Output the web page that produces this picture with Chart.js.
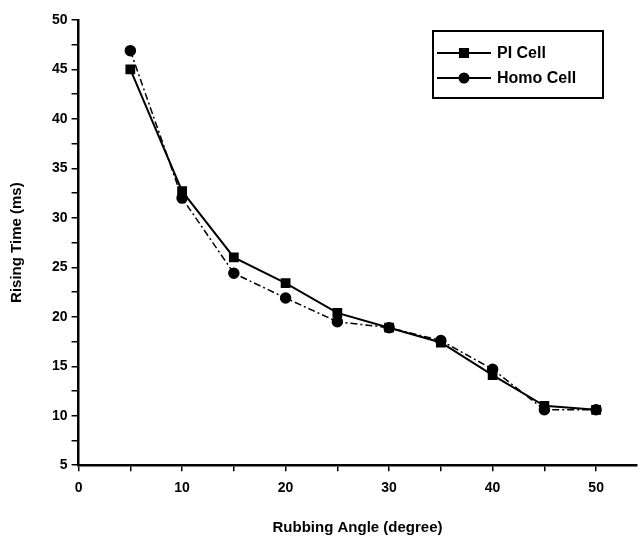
<!DOCTYPE html>
<html>
<head>
<meta charset="utf-8">
<script src="https://cdn.jsdelivr.net/npm/chart.js@4.4.0/dist/chart.umd.min.js"></script>
<style>
  body { margin: 0; background: #fff; }
  #wrap { width: 644px; height: 538px; }
</style>
</head>
<body>
<div id="wrap"><canvas id="riseChart" width="644" height="538"></canvas></div>
<script>
var angles = [5, 10, 15, 20, 25, 30, 35, 40, 45, 50];
var piCell = [45.0, 32.7, 26.0, 23.4, 20.4, 18.9, 17.4, 14.1, 11.0, 10.6];
var homoCell = [46.9, 32.0, 24.4, 21.9, 19.5, 18.9, 17.6, 14.7, 10.6, 10.6];
var xTicks = [0, 5, 10, 15, 20, 25, 30, 35, 40, 45, 50];

function toPoints(xs, ys) {
    return xs.map(function (x, i) { return { x: x, y: ys[i] }; });
}

// legend drawn as a boxed key like the original figure
var boxLegend = {
    id: 'boxLegend',
    afterDraw: function (chart) {
        var ctx = chart.ctx;
        var left = 433, top = 31, w = 170, h = 67;
        ctx.save();
        ctx.strokeStyle = '#000';
        ctx.lineWidth = 2;
        ctx.strokeRect(left, top, w, h);
        chart.data.datasets.forEach(function (ds, i) {
            var y = top + 22 + i * 25;
            ctx.beginPath();
            ctx.setLineDash([]);
            ctx.lineWidth = 2;
            ctx.moveTo(left + 4, y);
            ctx.lineTo(left + 58, y);
            ctx.stroke();
            ctx.fillStyle = '#000';
            ctx.beginPath();
            if (ds.pointStyle === 'rect') {
                ctx.fillRect(left + 26, y - 5, 10, 10);
            } else {
                ctx.arc(left + 31, y, 5.5, 0, Math.PI * 2);
                ctx.fill();
            }
            ctx.font = 'bold 16px "Liberation Sans", Arial, sans-serif';
            ctx.textBaseline = 'middle';
            ctx.fillText(ds.label, left + 64, y + 1);
        });
        ctx.restore();
    }
};

var riseChart = new Chart("riseChart", {
    type: "scatter",
    data: {
        datasets: [{
            label: "PI Cell",
            data: toPoints(angles, piCell),
            showLine: true,
            borderColor: "black",
            backgroundColor: "black",
            borderWidth: 2,
            pointStyle: 'rect',
            pointRadius: 5.5,
            fill: false
        }, {
            label: "Homo Cell",
            data: toPoints(angles, homoCell),
            showLine: true,
            borderColor: "black",
            backgroundColor: "black",
            borderWidth: 1.5,
            borderDash: [7, 3, 2, 3],
            pointStyle: 'circle',
            pointRadius: 5,
            fill: false
        }]
    },
    options: {
        responsive: false,
        animation: false,
        layout: { padding: { top: 20, right: 0, left: 8, bottom: 1 } },
        plugins: {
            legend: { display: false },
            tooltip: { enabled: false }
        },
        scales: {
            x: {
                type: 'linear',
                min: 0,
                max: 53.9,
                afterBuildTicks: function (axis) {
                    axis.ticks = xTicks.map(function (v) { return { value: v }; });
                },
                ticks: {
                    color: '#000',
                    font: { family: '"Liberation Sans", Arial, sans-serif', size: 14, weight: 'bold' },
                    padding: 9,
                    maxRotation: 0,
                    callback: function (v) { return v % 10 === 0 ? v : ''; }
                },
                grid: { drawOnChartArea: false, color: '#000', tickLength: 6, lineWidth: 1.5 },
                border: { color: '#000', width: 2.5 },
                title: {
                    display: true,
                    text: 'Rubbing Angle (degree)',
                    color: '#000',
                    font: { family: '"Liberation Sans", Arial, sans-serif', size: 15, weight: 'bold' },
                    padding: { top: 13, bottom: 0 }
                }
            },
            y: {
                min: 5,
                max: 50,
                ticks: {
                    stepSize: 2.5,
                    autoSkip: false,
                    color: '#000',
                    font: { family: '"Liberation Sans", Arial, sans-serif', size: 14, weight: 'bold' },
                    padding: 4,
                    callback: function (v) { return v % 5 === 0 ? v : ''; }
                },
                grid: { drawOnChartArea: false, color: '#000', tickLength: 7, lineWidth: 1.5 },
                border: { color: '#000', width: 2.5 },
                title: {
                    display: true,
                    text: 'Rising Time (ms)',
                    color: '#000',
                    font: { family: '"Liberation Sans", Arial, sans-serif', size: 15, weight: 'bold' },
                    padding: { top: 0, bottom: 22 }
                }
            }
        }
    },
    plugins: [boxLegend]
});
</script>
</body>
</html>
